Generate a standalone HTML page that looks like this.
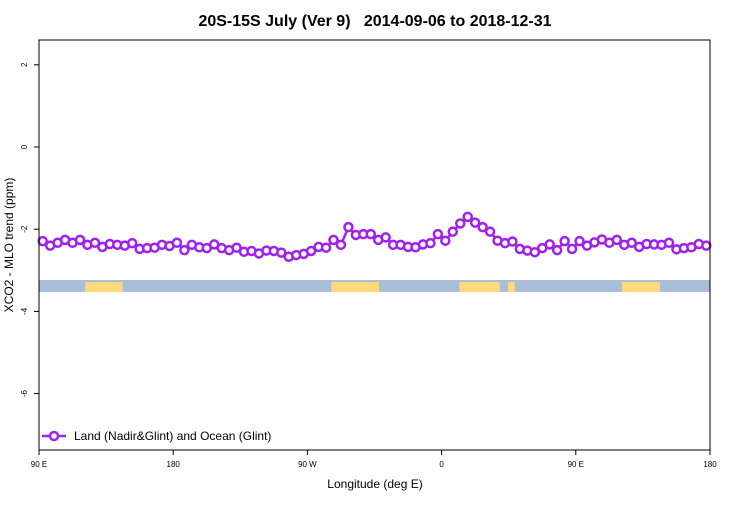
<!DOCTYPE html>
<html><head><meta charset="utf-8"><style>
body{margin:0;background:#fff;}
svg{font-family:"Liberation Sans",sans-serif;}
</style></head><body>
<svg id="chart" width="750" height="500" xmlns="http://www.w3.org/2000/svg">
<text x="375" y="26" text-anchor="middle" font-size="16" font-weight="bold" style="white-space:pre">20S-15S July (Ver 9)   2014-09-06 to 2018-12-31</text>
<g id="band"></g>
<g id="axes"></g>
<g id="series"></g>
<rect x="39" y="40" width="671" height="410" fill="none" stroke="#000" stroke-width="1"/>
<text x="375" y="488" text-anchor="middle" font-size="12">Longitude (deg E)</text>
<text transform="translate(13,245) rotate(-90)" text-anchor="middle" font-size="12">XCO2 - MLO trend (ppm)</text>
<g>
<line x1="42" y1="436" x2="66" y2="436" stroke="#a020f0" stroke-width="2.5"/>
<circle cx="54" cy="436" r="4" fill="#fff" stroke="#a020f0" stroke-width="2.5"/>
<text x="74" y="440" font-size="12">Land (Nadir&amp;Glint) and Ocean (Glint)</text>
</g>
</svg>
<script>
const yTicks=[2,0,-2,-4,-6];
const xTickLons=[90,180,270,360,450,540];
const xTickLabels=["90 E","180","90 W","0","90 E","180"];
const startLon=92.5, stepLon=5;
const values=[-2.29,-2.40,-2.33,-2.26,-2.33,-2.26,-2.38,-2.33,-2.43,-2.36,-2.38,-2.40,-2.34,-2.48,-2.46,-2.45,-2.38,-2.41,-2.33,-2.51,-2.38,-2.44,-2.46,-2.37,-2.46,-2.51,-2.45,-2.55,-2.53,-2.59,-2.52,-2.53,-2.57,-2.67,-2.63,-2.60,-2.53,-2.43,-2.45,-2.26,-2.38,-1.95,-2.14,-2.12,-2.12,-2.26,
-2.20,-2.38,-2.38,-2.43,-2.44,-2.37,-2.34,-2.12,-2.28,-2.06,-1.86,-1.70,-1.84,-1.95,-2.06,-2.28,-2.34,-2.30,-2.48,-2.52,-2.56,-2.46,-2.37,-2.51,-2.29,-2.48,-2.29,-2.40,-2.32,-2.25,-2.33,-2.26,-2.38,-2.33,-2.43,-2.36,-2.37,-2.38,-2.33,-2.49,-2.46,-2.44,-2.36,-2.40];
const landStart=[121,286,372,404.5,481];
const landEnd=[146,318,399,409,506.5];
const X=l=>39+(l-90)*671/450;
const Y=v=>147-v*41.1;
const NS="http://www.w3.org/2000/svg";
function mk(t,a,p){const e=document.createElementNS(NS,t);for(const k in a)e.setAttribute(k,a[k]);p.appendChild(e);return e;}
const band=document.getElementById('band');
const b=mk('rect',{x:39,y:280,width:671,height:12,fill:'#a8bedb'},band);


landStart.forEach((s,i)=>{const r=mk('rect',{x:X(s),y:282,width:X(landEnd[i])-X(s),height:10,fill:'#ffd97a'},band);

});
const axes=document.getElementById('axes');
yTicks.forEach(v=>{mk('line',{x1:34,x2:39,y1:Y(v),y2:Y(v),stroke:'#000'},axes);
const t=mk('text',{transform:`translate(27,${Y(v)}) rotate(-90)`,'text-anchor':'middle','font-size':8},axes);t.textContent=v;

});
xTickLons.forEach((l,i)=>{mk('line',{x1:X(l),x2:X(l),y1:450,y2:455,stroke:'#000'},axes);
const t=mk('text',{x:X(l),y:467,'text-anchor':'middle','font-size':8},axes);t.textContent=xTickLabels[i];

});
const s=document.getElementById('series');
const pts=values.map((v,i)=>[X(startLon+i*stepLon),Y(v)]);
const pl=mk('polyline',{points:pts.map(p=>p.join(',')).join(' '),fill:'none',stroke:'#a020f0','stroke-width':2.5},s);


pts.forEach(p=>{const c=mk('circle',{cx:p[0],cy:p[1],r:4,fill:'#fff',stroke:'#a020f0','stroke-width':2.5},s);

});
</script>
</body></html>
